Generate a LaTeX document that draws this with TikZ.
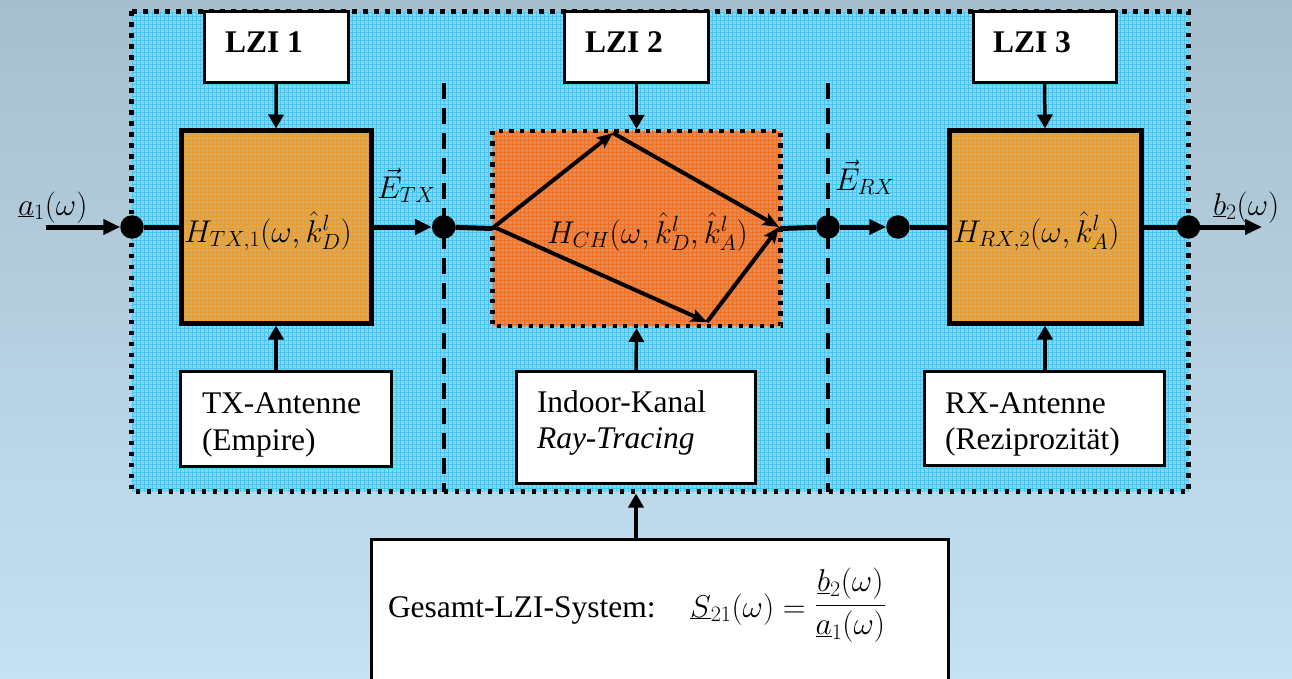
\RequirePackage{fix-cm}
\documentclass[tikz,border=0pt]{standalone}
\usepackage{fontspec}
\setmainfont{Liberation Serif}
\usetikzlibrary{arrows.meta,calc}

\definecolor{bgtop}{RGB}{167,190,205}
\definecolor{bgbot}{RGB}{196,226,244}
\definecolor{cyanfill}{RGB}{140,212,236}
\definecolor{cyanline}{RGB}{70,198,242}
\definecolor{goldfill}{RGB}{200,172,120}
\definecolor{goldline}{RGB}{238,158,40}
\definecolor{chfill}{RGB}{214,142,100}
\definecolor{chline}{RGB}{245,112,30}

\tikzset{
  big/.style={font=\fontsize{31.5}{37}\selectfont},
  whitebox/.style={draw=black, line width=3pt, fill=white, inner sep=0pt,
    outer sep=0pt, anchor=north west},
  plainbox/.style={inner sep=0pt, outer sep=0pt, anchor=north west},
  gridlines/.style={line width=1pt, step=4pt},
  sysborder/.style={draw=black, line width=4.5pt, dash pattern=on 4.5pt off 6.5pt},
  divider/.style={draw=black, line width=4pt, dash pattern=on 16pt off 9pt},
  dot/.style={circle, fill=black, minimum size=23.5pt, inner sep=0pt, outer sep=0pt},
  sig/.style={line width=5pt},
  sigarrow/.style={line width=5pt, -{Triangle[length=17pt,width=15pt]}},
  ctrl/.style={line width=3.5pt, -{Triangle[length=14pt,width=15pt]}},
  ray/.style={line width=4pt, -{Stealth[length=16pt,width=13pt,inset=3pt]}},
  txt/.style={big, inner sep=0pt, outer sep=0pt, anchor=base west},
}

% fills the rectangle of a node with a colour and a fine grid
\newcommand{\gridfill}[3]{%
  \fill[#2] (#1.north west) rectangle (#1.south east);
  \begin{scope}
    \clip (#1.north west) rectangle (#1.south east);
    \begin{scope}[shift={(0.5,0.5)}]
      \draw[gridlines, #3] (-2,681) grid (1294,-2);
    \end{scope}
  \end{scope}}

\begin{document}
\begin{tikzpicture}[x=1pt, y=-1pt]
  \useasboundingbox (0,0) rectangle (1292,679);
  \clip (0,0) rectangle (1292,679);
  \shade[top color=bgtop, bottom color=bgbot] (0,0) rectangle (1292,679);

  % overall system area
  \node[plainbox, minimum width=1057pt, minimum height=480pt] (sys) at (131.5,11.5) {};
  \gridfill{sys}{cyanfill}{cyanline}
  \draw[sysborder] (sys.north west) rectangle (sys.south east);

  % section dividers
  \coordinate (v1) at (443.7,83);
  \coordinate (v2) at (828,83);
  \draw[divider] (v1) -- (v1 |- sys.south);
  \draw[divider] (v2) -- (v2 |- sys.south);

  % LZI header boxes
  \node[whitebox, minimum width=143.5pt, minimum height=71pt] (lzi1) at (204.5,11.5) {};
  \node[whitebox, minimum width=144pt, minimum height=71pt] (lzi2) at (564.5,11.5) {};
  \node[whitebox, minimum width=143pt, minimum height=71pt] (lzi3) at (973,11.5) {};
  \node[txt, font=\fontsize{31.5}{37}\selectfont\bfseries] (l1) at (225,53) {LZI 1};
  \node[txt, font=\fontsize{31.5}{37}\selectfont\bfseries] (l2) at (585,53) {LZI 2};
  \node[txt, font=\fontsize{31.5}{37}\selectfont\bfseries] (l3) at (993,53) {LZI 3};

  % transfer blocks
  \node[plainbox, minimum width=190pt, minimum height=192pt] (tx) at (181,131) {};
  \node[plainbox, minimum width=192pt, minimum height=192pt] (rx) at (949,131) {};
  \node[plainbox, minimum width=288pt, minimum height=195pt] (ch) at (492.5,131) {};
  \gridfill{tx}{goldfill}{goldline}
  \gridfill{rx}{goldfill}{goldline}
  \gridfill{ch}{chfill}{chline}
  \draw[line width=5pt] (tx.north west) rectangle (tx.south east);
  \draw[line width=5pt] (rx.north west) rectangle (rx.south east);
  \draw[sysborder, dash pattern=on 4.3pt off 6.2pt] (ch.north west) rectangle (ch.south east);

  % model boxes below
  \node[whitebox, minimum width=210.6pt, minimum height=95pt] (txa) at (180.7,371.3) {};
  \node[whitebox, minimum width=238.6pt, minimum height=112.4pt] (ind) at (516.7,371.3) {};
  \node[whitebox, minimum width=240pt, minimum height=94.4pt] (rxa) at (924.7,371.3) {};
  \node[txt] (t1a) at (202,413) {TX-Antenne};
  \node[txt] (t1b) at (202,450) {(Empire)};
  \node[txt] (t2a) at (537,412) {Indoor-Kanal};
  \node[txt] (t2b) at (537,448) {\itshape Ray-Tracing};
  \node[txt] (t3a) at (945,413) {RX-Antenne};
  \node[txt] (t3b) at (945,449) {(Reziprozität)};

  % overall result box
  \node[whitebox, minimum width=576.5pt, minimum height=220pt] (ges) at (371.5,539.5) {};
  \node[txt] (gt) at (388,617) {Gesamt-LZI-System:};
  \node[txt] (gf) at (690,617)
    {$\underline{S}_{21}(\omega)=\raisebox{4pt}{$\displaystyle\frac{\underline{b}_2(\omega)}{\underline{a}_1(\omega)}$}$};

  % rays inside the channel
  \coordinate (r0) at (494,227);
  \coordinate (r1) at (613,133);
  \coordinate (r2) at (779,227);
  \coordinate (r3) at (707,322);
  \draw[ray] (r0) -- (r1);
  \draw[ray] (r1) -- (r2);
  \draw[ray] (r0) -- (r3);
  \draw[ray] (r3) -- (r2);

  % signal path
  \coordinate (ain) at (46,227);
  \coordinate (bout) at (1262,227);
  \node[dot] (d1) at (132,227) {};
  \node[dot] (d2) at (443.7,227) {};
  \node[dot] (d3) at (828,227) {};
  \node[dot] (d4) at (898,227) {};
  \node[dot] (d5) at (1188.5,227) {};
  \draw[sigarrow] (ain) -- (d1);
  \draw[sig] (d1) -- (tx.west);
  \draw[sigarrow] (tx.east) -- (d2);
  \draw[sig] (d2) -- (ch.west);
  \draw[sig] (ch.east) -- (d3);
  \draw[sigarrow] (d3) -- (d4);
  \draw[sig] (d4) -- (rx.west);
  \draw[sig] (rx.east) -- (d5);
  \draw[sigarrow] (d5) -- (bout);

  % control arrows
  \draw[ctrl] (lzi1.south) -- ([yshift=2.5pt]tx.north);
  \draw[ctrl] (lzi2.south) -- ([yshift=2pt]ch.north);
  \draw[ctrl] (lzi3.south) -- ([yshift=2.5pt]rx.north);
  \draw[ctrl] (txa.north -| tx.south) -- ([yshift=-2.5pt]tx.south);
  \draw[ctrl] (ind.north) -- ([yshift=-2pt]ch.south);
  \draw[ctrl] (rxa.north -| rx.south) -- ([yshift=-2.5pt]rx.south);
  \draw[ctrl] (ges.north -| ind.north) -- ([yshift=-2pt]sys.south -| ind.north);

  % formula labels
  \node[txt] (la) at (18,215) {$\underline{a}_1(\omega)$};
  \node[txt] (lb) at (1213,215) {$\underline{b}_2(\omega)$};
  \node[txt] (le1) at (377,198) {$\vec{E}_{TX}$};
  \node[txt] (le2) at (835,190) {$\vec{E}_{RX}$};
  \node[txt] (htx) at (184,242) {$H_{TX,1}(\omega,\hat{k}_D^l)$};
  \node[txt] (hch) at (547,243) {$H_{CH}(\omega,\hat{k}_D^l,\hat{k}_A^l)$};
  \node[txt] (hrx) at (953,242) {$H_{RX,2}(\omega,\hat{k}_A^l)$};
\end{tikzpicture}
\end{document}
